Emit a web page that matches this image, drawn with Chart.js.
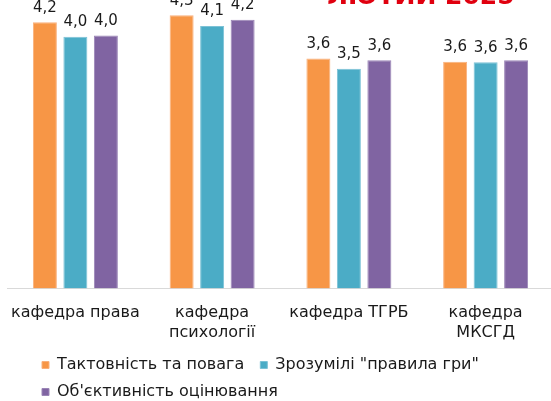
<!DOCTYPE html>
<html lang="uk">
<head>
<meta charset="utf-8">
<script src="https://cdn.jsdelivr.net/npm/chart.js@4.4.1/dist/chart.umd.min.js"></script>
<style>
  html, body { margin: 0; padding: 0; background: #fff; overflow: hidden; }
  #wrap { position: relative; width: 560px; height: 410px; }
</style>
</head>
<body>
<div id="wrap"><canvas id="chart"></canvas></div>
<script>
const departments = [['кафедра права'], ['кафедра', 'психології'], ['кафедра ТГРБ'], ['кафедра', 'МКСГД']];
const seriesNames = ['Тактовність та повага', 'Зрозумілі "правила гри"', 'Об\'єктивність оцінювання'];
const tactValues = [4.19, 4.30, 3.62, 3.57];
const rulesValues = [3.96, 4.13, 3.46, 3.56];
const objectiveValues = [3.98, 4.23, 3.59, 3.59];
const seriesColors = ['#f79646', '#4bacc6', '#8064a2'];
const seriesEdges = ['#f9b07c', '#7cc2d6', '#9a85b6'];
const titleText = 'ЛЮТИЙ 2025';

const FONT = "'DejaVu Sans', sans-serif";

const fmt = v => v.toFixed(1).replace('.', ',');

// value labels above the bars
const barLabels = {
  id: 'barLabels',
  afterDatasetsDraw(chart) {
    const ctx = chart.ctx;
    ctx.save();
    ctx.font = '15px ' + FONT;
    ctx.fillStyle = '#1a1a1a';
    ctx.textAlign = 'center';
    ctx.textBaseline = 'bottom';
    chart.data.datasets.forEach((ds, i) => {
      chart.getDatasetMeta(i).data.forEach((bar, j) => {
        ctx.fillText(fmt(ds.data[j]), bar.x, bar.y - 7);
      });
    });
    ctx.restore();
  }
};

// red heading of the slide, mostly cut off at the top
const slideTitle = {
  id: 'slideTitle',
  afterDraw(chart) {
    const ctx = chart.ctx;
    ctx.save();
    ctx.font = 'bold 25px ' + FONT;
    ctx.fillStyle = '#e0000f';
    ctx.textAlign = 'center';
    ctx.textBaseline = 'alphabetic';
    ctx.fillText(titleText, 421, 3.5);
    ctx.restore();
  }
};

// legend rows start further right than the plot area
const legendShift = {
  id: 'legendShift',
  afterUpdate(chart) {
    chart.legend.left += 24;
    chart.legend.right += 24;
  }
};

new Chart(document.getElementById('chart'), {
  type: 'bar',
  data: {
    labels: departments,
    datasets: [
      { label: seriesNames[0], data: tactValues },
      { label: seriesNames[1], data: rulesValues },
      { label: seriesNames[2], data: objectiveValues }
    ].map((d, i) => Object.assign(d, {
      backgroundColor: seriesColors[i],
      borderColor: seriesEdges[i],
      borderWidth: 1,
      categoryPercentage: 0.669,
      barPercentage: 0.787
    }))
  },
  options: {
    responsive: true,
    maintainAspectRatio: false,
    animation: false,
    layout: { padding: { left: 7, right: 6, top: 0, bottom: 0 } },
    plugins: {
      legend: {
        position: 'bottom',
        align: 'start',
        labels: {
          boxWidth: 7,
          boxHeight: 7,
          padding: 11,
          color: '#1a1a1a',
          font: { family: FONT, size: 16 },
          generateLabels(chart) {
            const items = Chart.defaults.plugins.legend.labels.generateLabels(chart);
            items[0].text += ' ';
            return items;
          }
        }
      },
      tooltip: { enabled: false }
    },
    scales: {
      x: {
        grid: { display: false, drawTicks: false },
        border: { display: true, color: '#d9d9d9', width: 1 },
        afterFit(scale) {
          scale.height = 57.5;
          scale.paddingLeft = 0;
          scale.paddingRight = 0;
        },
        ticks: {
          padding: 14,
          color: '#1a1a1a',
          maxRotation: 0,
          autoSkip: false,
          font: { family: FONT, size: 16, lineHeight: 1.25 }
        }
      },
      y: {
        display: false,
        min: 0,
        max: 4.54
      }
    }
  },
  plugins: [barLabels, slideTitle, legendShift]
});
</script>
</body>
</html>
